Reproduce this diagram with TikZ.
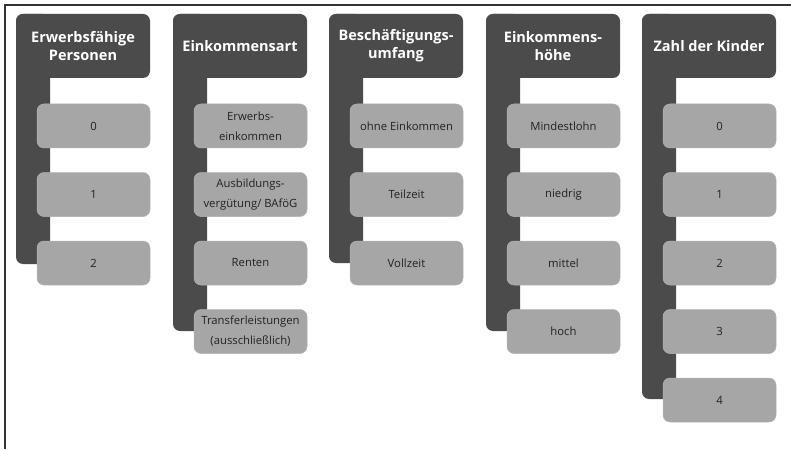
\documentclass[tikz,border=0pt]{standalone}
\usepackage{fontspec}
\setmainfont{Open Sans}
\definecolor{darkg}{HTML}{4B4B4B}
\definecolor{lightg}{HTML}{A6A6A6}
\definecolor{edgeg}{HTML}{B4B4B4}
\definecolor{frameg}{HTML}{333333}
\definecolor{itemtext}{HTML}{222222}
\tikzset{
  head/.style={fill=darkg, rounded corners=7pt, minimum width=134pt, minimum height=64pt,
    text=white, font=\fontsize{14.5}{18}\selectfont\bfseries, align=center, inner sep=0pt},
  bar/.style={fill=darkg, rounded corners=7pt},
  item/.style={fill=lightg, draw=edgeg, line width=0.5pt, rounded corners=7pt,
    minimum width=113pt, minimum height=44pt, text=itemtext,
    font=\fontsize{11.3}{20}\selectfont, align=center, inner sep=0pt},
  frame/.style={draw=frameg, line width=1.1pt}
}
\begin{document}
\begin{tikzpicture}[x=1pt,y=-1pt]
\useasboundingbox (0,0) rectangle (791,449);
\coordinate (fo) at (5,5);
\coordinate (fr) at (791,5);
\coordinate (fb) at (5,449);
\draw[frame] (fb) -- (fo) -- (fr);

% Column 1
\fill[bar] (16,14) rectangle (50,264);
\node[head] (h1) at (83,46) {Erwerbsfähige\\Personen};
\node[item] (a1) at (93.5,126) {0};
\node[item] (a2) at (93.5,194.5) {1};
\node[item] (a3) at (93.5,263) {2};

% Column 2
\fill[bar] (173,14) rectangle (207,331);
\node[head] (h2) at (240,46) {Einkommensart};
\node[item] (b1) at (250.5,126) {Erwerbs-\\einkommen};
\node[item] (b2) at (250.5,194.5) {Ausbildungs-\\vergütung/ BAföG};
\node[item] (b3) at (250.5,263) {Renten};
\node[item] (b4) at (250.5,331.5) {Transferleistungen\\(ausschließlich)};

% Column 3
\fill[bar] (329,14) rectangle (363,263);
\node[head] (h3) at (396,46) {Beschäftigungs-\\umfang};
\node[item] (c1) at (406.5,126) {ohne Einkommen};
\node[item] (c2) at (406.5,194.5) {Teilzeit};
\node[item] (c3) at (406.5,263) {Vollzeit};

% Column 4
\fill[bar] (486,14) rectangle (520,331);
\node[head] (h4) at (553,46) {Einkommens-\\höhe};
\node[item] (d1) at (563.5,126) {Mindestlohn};
\node[item] (d2) at (563.5,194.5) {niedrig};
\node[item] (d3) at (563.5,263) {mittel};
\node[item] (d4) at (563.5,331.5) {hoch};

% Column 5
\fill[bar] (642,14) rectangle (676,399);
\node[head] (h5) at (709,46) {Zahl der Kinder};
\node[item] (e1) at (719.5,126) {0};
\node[item] (e2) at (719.5,194.5) {1};
\node[item] (e3) at (719.5,263) {2};
\node[item] (e4) at (719.5,331.5) {3};
\node[item] (e5) at (719.5,400) {4};
\end{tikzpicture}
\end{document}
